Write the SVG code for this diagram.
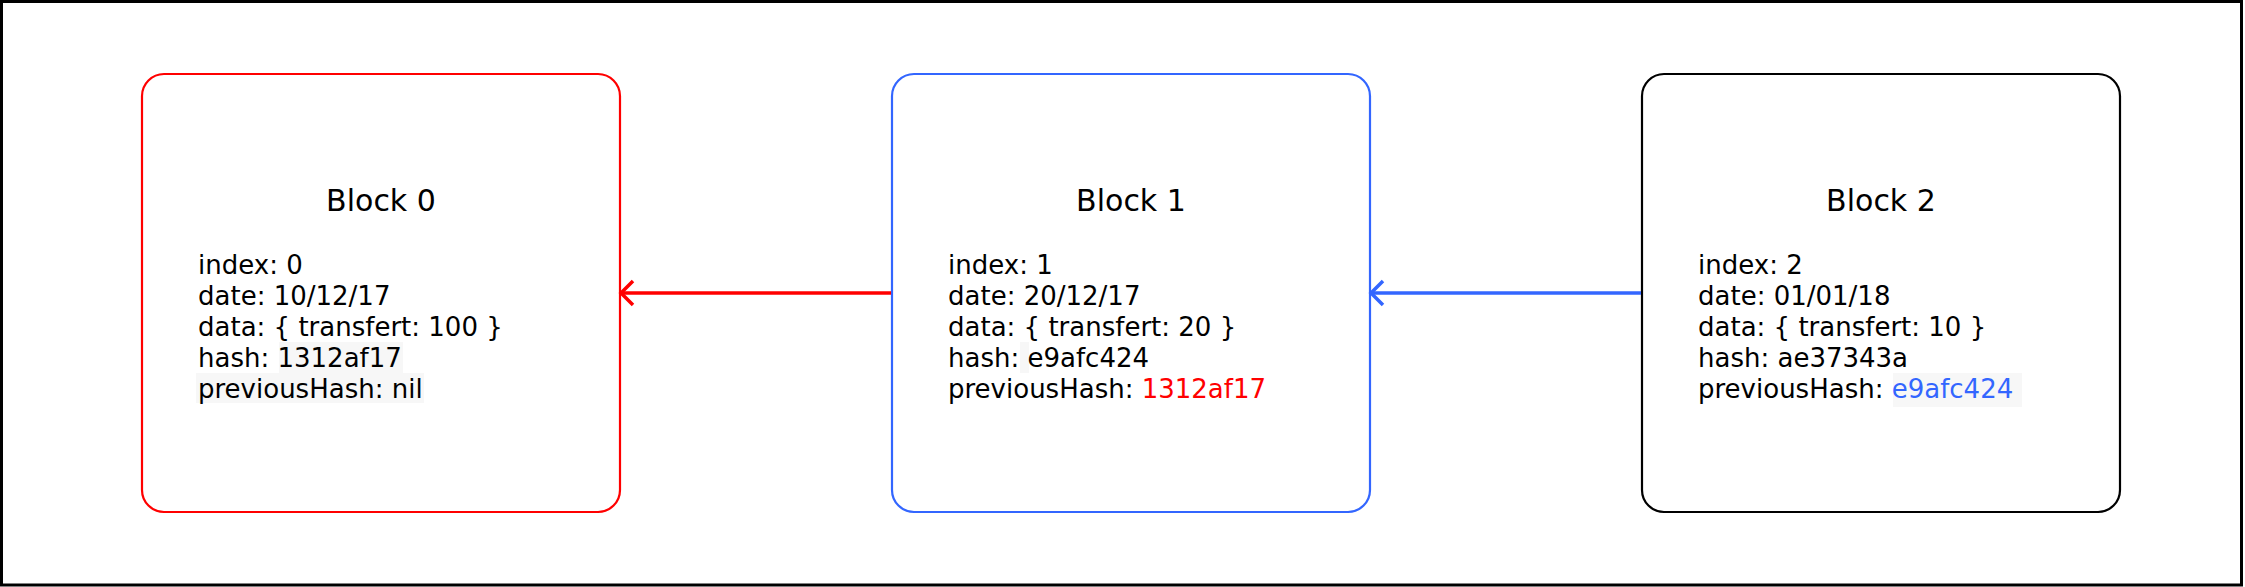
<svg xmlns="http://www.w3.org/2000/svg" width="2245" height="587" viewBox="0 0 2245 587">
<style>
.box{fill:#fff;stroke-width:2.2}
.title{font-family:"DejaVu Sans",Verdana,sans-serif;font-size:30px;fill:#000;text-anchor:middle}
.body{font-family:"DejaVu Sans",Verdana,sans-serif;font-size:26px;fill:#000}
.hl{fill:#f7f7f7}
.red{fill:#ff0000}
.blue{fill:#3366ff}
.conn{fill:none;stroke-width:3.5}
</style>
<rect x="0" y="0" width="2245" height="587" fill="#fff"/>
<rect x="1.5" y="1.5" width="2240" height="583.5" fill="none" stroke="#000" stroke-width="3"/>
<g id="block0">
<rect class="box" x="142" y="74" width="478" height="438" rx="22" stroke="#ff0000"/>
<rect class="hl" x="279" y="342" width="124" height="31"/>
<rect class="hl" x="196" y="373" width="228" height="30"/>
<text class="title" x="381" y="211">Block 0</text>
<text class="body" x="198" y="274">index: 0</text>
<text class="body" x="198" y="305">date: 10/12/17</text>
<text class="body" x="198" y="336">data: { transfert: 100 }</text>
<text class="body" x="198" y="367">hash: 1312af17</text>
<text class="body" x="198" y="398">previousHash: nil</text>
</g>
<g id="block1">
<rect class="box" x="892" y="74" width="478" height="438" rx="22" stroke="#3366ff"/>
<rect class="hl" x="1020" y="342" width="9" height="31"/>
<text class="title" x="1131" y="211">Block 1</text>
<text class="body" x="948" y="274">index: 1</text>
<text class="body" x="948" y="305">date: 20/12/17</text>
<text class="body" x="948" y="336">data: { transfert: 20 }</text>
<text class="body" x="948" y="367">hash: e9afc424</text>
<text class="body" x="948" y="398">previousHash: <tspan class="red">1312af17</tspan></text>
</g>
<g id="block2">
<rect class="box" x="1642" y="74" width="478" height="438" rx="22" stroke="#000"/>
<rect class="hl" x="1893" y="373" width="129" height="34"/>
<text class="title" x="1881" y="211">Block 2</text>
<text class="body" x="1698" y="274">index: 2</text>
<text class="body" x="1698" y="305">date: 01/01/18</text>
<text class="body" x="1698" y="336">data: { transfert: 10 }</text>
<text class="body" x="1698" y="367">hash: ae37343a</text>
<text class="body" x="1698" y="398">previousHash: <tspan class="blue">e9afc424</tspan></text>
</g>
<g id="connectors">
<path class="conn" stroke="#ff0000" d="M891 293 H621"/>
<path class="conn" stroke="#ff0000" d="M633 281 L621 293 L633 305"/>
<path class="conn" stroke="#3366ff" d="M1641 293 H1371"/>
<path class="conn" stroke="#3366ff" d="M1383 281 L1371 293 L1383 305"/>
</g>
</svg>
